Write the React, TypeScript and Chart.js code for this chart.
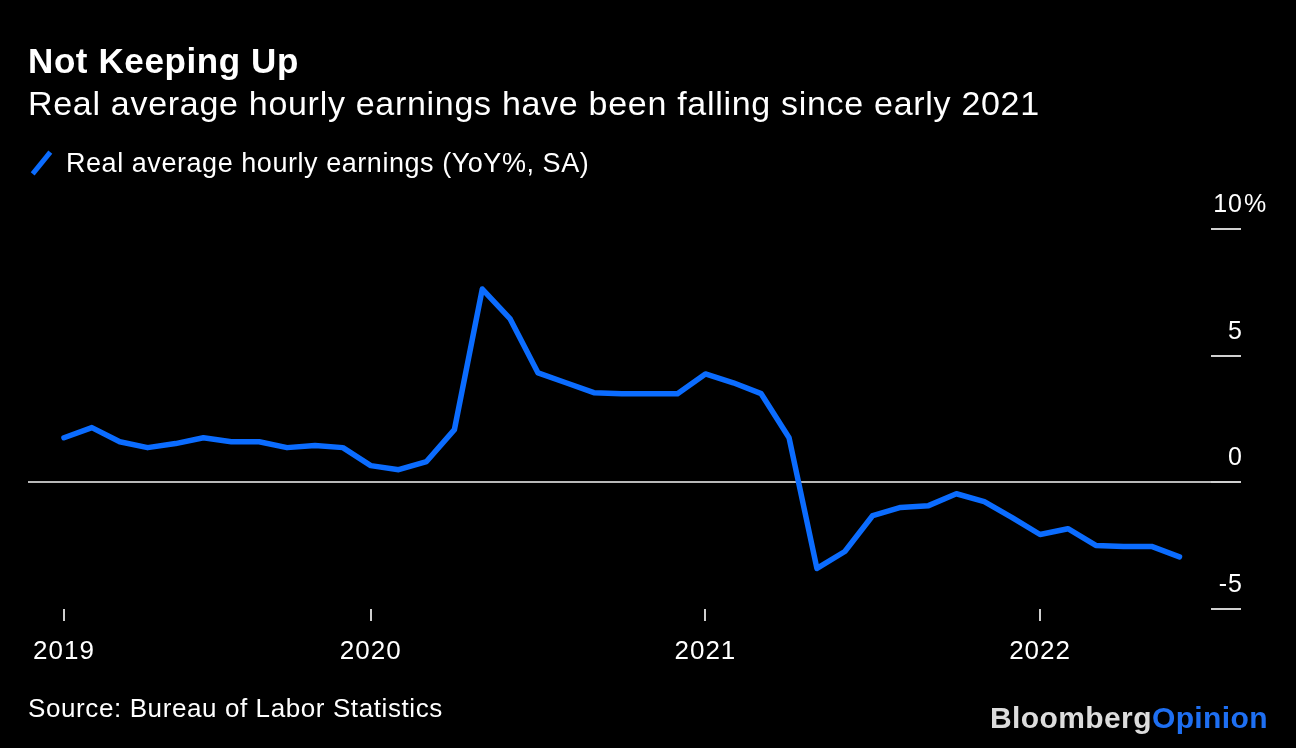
import React, { useEffect, useRef } from "react";
import { Chart, registerables } from "chart.js";

Chart.register(...registerables);

// Monthly readings, Feb 2019 – Jun 2022 (x position = months since Jan 2019)
const monthLabels = [
  "Feb 2019", "Mar 2019", "Apr 2019", "May 2019", "Jun 2019", "Jul 2019", "Aug 2019", "Sep 2019", "Oct 2019", "Nov 2019", "Dec 2019",
  "Jan 2020", "Feb 2020", "Mar 2020", "Apr 2020", "May 2020", "Jun 2020", "Jul 2020", "Aug 2020", "Sep 2020", "Oct 2020", "Nov 2020", "Dec 2020",
  "Jan 2021", "Feb 2021", "Mar 2021", "Apr 2021", "May 2021", "Jun 2021", "Jul 2021", "Aug 2021", "Sep 2021", "Oct 2021", "Nov 2021", "Dec 2021",
  "Jan 2022", "Feb 2022", "Mar 2022", "Apr 2022", "May 2022", "Jun 2022",
];
const firstMonthOffset = 1; // Feb 2019 = month 1

const realEarningsYoY = [
  1.76, 2.16, 1.6, 1.37, 1.53, 1.76, 1.6, 1.6, 1.37, 1.45, 1.37,
  0.66, 0.5, 0.82, 2.08, 7.63, 6.45, 4.32, 3.93, 3.54, 3.5, 3.5, 3.5,
  4.28, 3.93, 3.5, 1.76, -3.4, -2.73, -1.31, -0.99, -0.92, -0.45, -0.76, -1.39,
  -2.06, -1.83, -2.49, -2.53, -2.53, -2.94,
];

const yearTickPositions = [1, 12, 24, 36];
const yearTickLabels = ["2019", "2020", "2021", "2022"];

const yTickValues = [-5, 0, 5, 10];
const yTickLabels = ["-5", "0", "5", "10"];

const seriesName = "Real average hourly earnings (YoY%, SA)";
const titleText = "Not Keeping Up";
const subtitleText = "Real average hourly earnings have been falling since early 2021";
const sourceText = "Source: Bureau of Labor Statistics";

const FONT = '"Liberation Sans", Arial, Helvetica, sans-serif';
const BLUE = "#0b6cff";

// Slightly open tracking for all canvas text (axis labels)
const trackingPlugin = {
  id: "tracking",
  beforeDraw(chart: any) {
    (chart.ctx as any).letterSpacing = "1px";
  },
  afterDraw(chart: any) {
    (chart.ctx as any).letterSpacing = "0px";
  },
};

const yLabelPlugin = {
  id: "yTickText",
  afterDraw(chart: any) {
    const s = chart.scales.y;
    const ctx = chart.ctx as CanvasRenderingContext2D;
    ctx.save();
    ctx.font = `25px ${FONT}`;
    (ctx as any).letterSpacing = "1px";
    ctx.fillStyle = "#ffffff";
    ctx.textBaseline = "alphabetic";
    const right = chart.chartArea.right + 32;
    const top = Math.max(...yTickValues);
    s.ticks.forEach((t: any) => {
      const idx = yTickValues.indexOf(t.value);
      if (idx < 0) return;
      const y = s.getPixelForValue(t.value) - 17;
      ctx.textAlign = "right";
      ctx.fillText(yTickLabels[idx], right, y);
      if (t.value === top) {
        ctx.textAlign = "left";
        ctx.fillText("%", right + 1, y);
      }
    });
    ctx.restore();
  },
};

export default function App() {
  const canvasRef = useRef<HTMLCanvasElement | null>(null);

  useEffect(() => {
    const canvas = canvasRef.current;
    if (!canvas) return;
    const chart = new Chart(canvas, {
      type: "line",
      data: {
        datasets: [
          {
            label: seriesName,
            data: realEarningsYoY.map((v, i) => ({ x: i + firstMonthOffset, y: v, m: monthLabels[i] })) as any,
            borderColor: BLUE,
            borderWidth: 5.5,
            pointRadius: 0,
            tension: 0,
            borderJoinStyle: "round",
            borderCapStyle: "round",
          },
        ],
      },
      options: {
        animation: false,
        responsive: false,
        maintainAspectRatio: false,
        layout: { padding: { left: 28, top: 229, right: 0, bottom: 0 } },
        plugins: { legend: { display: false }, tooltip: { enabled: false }, title: { display: false } },
        scales: {
          x: {
            type: "linear",
            position: "bottom",
            min: -0.29,
            max: 42.13,
            afterBuildTicks: (s: any) => {
              s.ticks = yearTickPositions.map((v) => ({ value: v }));
            },
            afterFit: (s: any) => {
              s.height = 139;
            },
            ticks: {
              autoSkip: false,
              maxRotation: 0,
              color: "#ffffff",
              padding: 15,
              font: { family: FONT, size: 26 },
              callback: (v: any) => {
                const i = yearTickPositions.indexOf(Number(v));
                return i >= 0 ? yearTickLabels[i] : "";
              },
            },
            grid: {
              drawOnChartArea: false,
              drawTicks: true,
              tickLength: 12,
              tickColor: "#cfcfcf",
              lineWidth: 2,
            },
            border: { display: false },
          },
          y: {
            type: "linear",
            position: "right",
            min: -5,
            max: 10,
            afterBuildTicks: (s: any) => {
              s.ticks = yTickValues.map((v) => ({ value: v }));
            },
            afterFit: (s: any) => {
              s.width = 85;
            },
            ticks: { display: false },
            grid: {
              drawTicks: true,
              tickLength: 30,
              lineWidth: 2,
              tickColor: "#d0d0d0",
              color: (c: any) => (c.tick && c.tick.value === 0 ? "#b8b8b8" : "rgba(0,0,0,0)"),
            },
            border: { display: false },
          },
        },
      },
      plugins: [trackingPlugin, yLabelPlugin],
    });
    return () => chart.destroy();
  }, []);

  const textBase: React.CSSProperties = {
    position: "absolute",
    whiteSpace: "nowrap",
    color: "#ffffff",
    fontFamily: FONT,
  };

  return (
    <div
      style={{
        position: "fixed",
        left: 0,
        top: 0,
        width: 1296,
        height: 748,
        background: "#000000",
        overflow: "hidden",
      }}
    >
      <canvas
        ref={canvasRef}
        width={1296}
        height={748}
        style={{ position: "absolute", left: 0, top: 0, width: 1296, height: 748 }}
      />
      <div style={{ ...textBase, left: 28, top: 43, fontSize: 35, lineHeight: "35px", fontWeight: 700, letterSpacing: "0.6px" }}>
        {titleText}
      </div>
      <div style={{ ...textBase, left: 28, top: 86, fontSize: 34, lineHeight: "34px", letterSpacing: "0.7px" }}>
        {subtitleText}
      </div>
      <div
        style={{
          position: "absolute",
          left: 38.5,
          top: 149,
          width: 5,
          height: 28,
          background: BLUE,
          transform: "rotate(39deg)",
        }}
      />
      <div style={{ ...textBase, left: 66, top: 150, fontSize: 27, lineHeight: "27px", letterSpacing: "0.55px" }}>
        {seriesName}
      </div>
      <div style={{ ...textBase, left: 28, top: 695, fontSize: 26, lineHeight: "26px", letterSpacing: "0.6px" }}>
        {sourceText}
      </div>
      <div
        style={{
          ...textBase,
          right: 1296 - 1268,
          top: 703,
          fontSize: 30,
          lineHeight: "30px",
          fontWeight: 700,
          letterSpacing: "0.4px",
        }}
      >
        <span style={{ color: "#dcdcdc" }}>Bloomberg</span>
        <span style={{ color: "#1e6ff2" }}>Opinion</span>
      </div>
    </div>
  );
}
